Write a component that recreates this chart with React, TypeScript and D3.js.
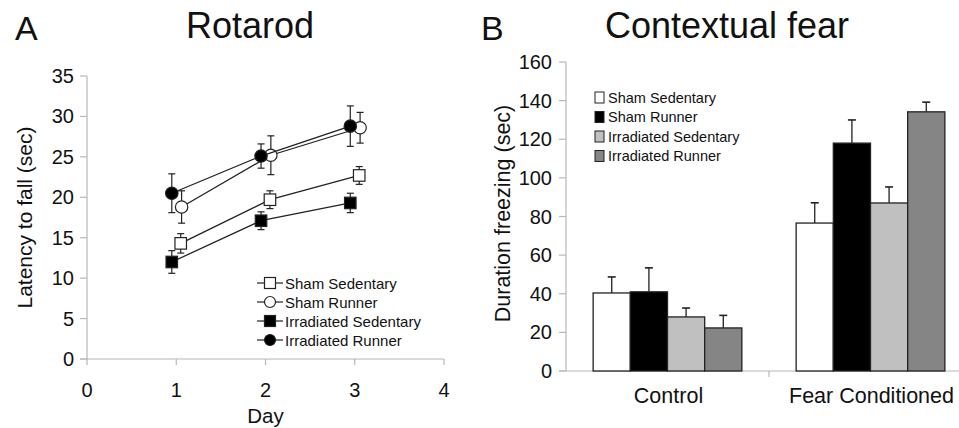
import React from "react";
import * as d3 from "d3";

// Rotarod (panel A)
const days = [1, 2, 3];
const rotaSeries = ["Sham Sedentary", "Sham Runner", "Irradiated Sedentary", "Irradiated Runner"];
const shamSedentary = [14.3, 19.7, 22.7];
const shamSedentaryErr = [1.2, 1.1, 1.1];
const shamRunner = [18.8, 25.2, 28.6];
const shamRunnerErr = [2.0, 2.4, 1.9];
const irrSedentary = [12.0, 17.1, 19.3];
const irrSedentaryErr = [1.4, 1.1, 1.2];
const irrRunner = [20.5, 25.1, 28.8];
const irrRunnerErr = [2.4, 1.5, 2.5];
const rotaYTicks = [0, 5, 10, 15, 20, 25, 30, 35];
const rotaXTicks = [0, 1, 2, 3, 4];

// Contextual fear (panel B)
const fearCategories = ["Control", "Fear Conditioned"];
const fearGroups = ["Sham Sedentary", "Sham Runner", "Irradiated Sedentary", "Irradiated Runner"];
const fearControl = [40.4, 41, 28, 22.3];
const fearControlErr = [8.3, 12.4, 4.6, 6.5];
const fearConditioned = [76.6, 118, 87, 134.2];
const fearConditionedErr = [10.5, 12, 8.3, 5];
const fearYTicks = [0, 20, 40, 60, 80, 100, 120, 140, 160];

const FONT = "'Liberation Sans', Arial, sans-serif";
const AXIS = "#b8b8b8";

const rotaData = [
  { name: rotaSeries[0], vals: shamSedentary, err: shamSedentaryErr, shape: "square", fill: "#fff", dx: 0.05 },
  { name: rotaSeries[1], vals: shamRunner, err: shamRunnerErr, shape: "circle", fill: "#fff", dx: 0.06 },
  { name: rotaSeries[2], vals: irrSedentary, err: irrSedentaryErr, shape: "square", fill: "#000", dx: -0.05 },
  { name: rotaSeries[3], vals: irrRunner, err: irrRunnerErr, shape: "circle", fill: "#000", dx: -0.05 },
];

const fearFills = ["#ffffff", "#000000", "#c0c0c0", "#858585"];

function Marker({ shape, fill, cx, cy }: any) {
  if (shape === "square") {
    return <rect x={cx - 5.75} y={cy - 5.75} width={11.5} height={11.5} fill={fill} stroke="#222" strokeWidth={1.2} />;
  }
  return <circle cx={cx} cy={cy} r={6.2} fill={fill} stroke="#222" strokeWidth={1.2} />;
}

function Rotarod() {
  const x = d3.scaleLinear().domain([0, 4]).range([87, 444]);
  const y = d3.scaleLinear().domain([0, 35]).range([359, 76]);
  const lineGen = d3
    .line<[number, number]>()
    .x((d) => d[0])
    .y((d) => d[1]);

  return (
    <g fontFamily={FONT}>
      <text x={15} y={40} fontSize={34} fill="#111">A</text>
      <text x={250} y={38} fontSize={36} textAnchor="middle" fill="#111">Rotarod</text>

      {/* axes */}
      <line x1={x(0)} x2={x(0)} y1={y(0)} y2={y(35)} stroke={AXIS} strokeWidth={1.2} />
      <line x1={x(0) - 7} x2={x(4)} y1={y(0)} y2={y(0)} stroke={AXIS} strokeWidth={1.2} />
      {rotaYTicks.map((t) => (
        <g key={t}>
          <line x1={x(0) - 7} x2={x(0)} y1={y(t)} y2={y(t)} stroke={AXIS} strokeWidth={1.2} />
          <text x={x(0) - 13} y={y(t) + 7} fontSize={20} textAnchor="end" fill="#111">{t}</text>
        </g>
      ))}
      {rotaXTicks.map((t) => (
        <g key={t}>
          <line x1={x(t)} x2={x(t)} y1={y(0)} y2={y(0) + 6} stroke={AXIS} strokeWidth={1.2} />
          <text x={x(t)} y={397} fontSize={20} textAnchor="middle" fill="#111">{t}</text>
        </g>
      ))}
      <text x={x(2)} y={423} fontSize={20.5} textAnchor="middle" fill="#111">Day</text>
      <text transform={`translate(32,${y(17.5)}) rotate(-90)`} fontSize={21} textAnchor="middle" fill="#111">
        Latency to fall (sec)
      </text>

      {/* series */}
      {rotaData.map((s) => {
        const pts = s.vals.map((v, i) => [x(days[i] + s.dx), y(v)] as [number, number]);
        return (
          <g key={s.name}>
            <path d={lineGen(pts) || ""} fill="none" stroke="#222" strokeWidth={1.3} />
            {s.vals.map((v, i) => {
              const cx = x(days[i] + s.dx);
              return (
                <g key={i} stroke="#222" strokeWidth={1.2}>
                  <line x1={cx} x2={cx} y1={y(v - s.err[i])} y2={y(v + s.err[i])} />
                  <line x1={cx - 3.5} x2={cx + 3.5} y1={y(v + s.err[i])} y2={y(v + s.err[i])} />
                  <line x1={cx - 3.5} x2={cx + 3.5} y1={y(v - s.err[i])} y2={y(v - s.err[i])} />
                </g>
              );
            })}
            {s.vals.map((v, i) => (
              <Marker key={i} shape={s.shape} fill={s.fill} cx={x(days[i] + s.dx)} cy={y(v)} />
            ))}
          </g>
        );
      })}

      {/* legend */}
      {rotaData.map((s, i) => {
        const ly = 283 + i * 19;
        return (
          <g key={s.name}>
            <line x1={257} x2={283} y1={ly} y2={ly} stroke="#222" strokeWidth={1.2} />
            {s.shape === "square" ? (
              <rect x={264.5} y={ly - 5.5} width={11} height={11} fill={s.fill} stroke="#222" strokeWidth={1.2} />
            ) : (
              <circle cx={270} cy={ly} r={5.5} fill={s.fill} stroke="#222" strokeWidth={1.2} />
            )}
            <text x={285} y={ly + 5.5} fontSize={15} fill="#111">{s.name}</text>
          </g>
        );
      })}
    </g>
  );
}

function ContextualFear() {
  const x0 = d3.scaleBand().domain(fearCategories).range([566, 972]).paddingInner(0).paddingOuter(0);
  const x1 = d3.scaleBand().domain(fearGroups).range([0, x0.bandwidth()]).paddingOuter(0.73);
  const y = d3.scaleLinear().domain([0, 160]).range([371, 62]);
  const values = [fearControl, fearConditioned];
  const errs = [fearControlErr, fearConditionedErr];

  return (
    <g fontFamily={FONT}>
      <text x={481} y={40} fontSize={34} fill="#111">B</text>
      <text x={727} y={38} fontSize={36} textAnchor="middle" fill="#111">Contextual fear</text>

      <line x1={566} x2={566} y1={y(0)} y2={y(160)} stroke={AXIS} strokeWidth={1.2} />
      <line x1={559} x2={972} y1={y(0)} y2={y(0)} stroke={AXIS} strokeWidth={1.2} />
      {fearYTicks.map((t) => (
        <g key={t}>
          <line x1={559} x2={566} y1={y(t)} y2={y(t)} stroke={AXIS} strokeWidth={1.2} />
          <text x={552} y={y(t) + 7} fontSize={20} textAnchor="end" fill="#111">{t}</text>
        </g>
      ))}
      <line x1={x0(fearCategories[1])!} x2={x0(fearCategories[1])!} y1={y(0)} y2={y(0) + 6} stroke={AXIS} strokeWidth={1.2} />
      {fearCategories.map((c) => (
        <text key={c} x={x0(c)! + x0.bandwidth() / 2 + 1} y={403} fontSize={21.5} textAnchor="middle" fill="#111">{c}</text>
      ))}
      <text transform={`translate(510,${y(80) - 3}) rotate(-90)`} fontSize={21.5} textAnchor="middle" fill="#111">
        Duration freezing (sec)
      </text>

      {fearCategories.map((c, ci) => (
        <g key={c}>
          {fearGroups.map((g, gi) => {
            const bx = x0(c)! + x1(g)!;
            const v = values[ci][gi];
            const top = y(v + errs[ci][gi]);
            const cx = bx + x1.bandwidth() / 2;
            return (
              <g key={g}>
                <line x1={cx} x2={cx} y1={y(v)} y2={top} stroke="#222" strokeWidth={1.3} />
                <line x1={cx - 4} x2={cx + 4} y1={top} y2={top} stroke="#222" strokeWidth={1.6} />
                <rect x={bx} y={y(v)} width={x1.bandwidth()} height={y(0) - y(v)} fill={fearFills[gi]} stroke="#222" strokeWidth={1.3} />
              </g>
            );
          })}
        </g>
      ))}

      {fearGroups.map((g, i) => {
        const ly = 97 + i * 19.5;
        return (
          <g key={g}>
            <rect x={595} y={ly - 5} width={9} height={11} fill={fearFills[i]} stroke="#222" strokeWidth={1} />
            <text x={608} y={ly + 5.5} fontSize={14.5} fill="#111">{g}</text>
          </g>
        );
      })}
    </g>
  );
}

export default function App() {
  return (
    <svg width={959} height={428} style={{ position: "absolute", left: 0, top: 0, background: "#fff" }}>
      <Rotarod />
      <ContextualFear />
    </svg>
  );
}
